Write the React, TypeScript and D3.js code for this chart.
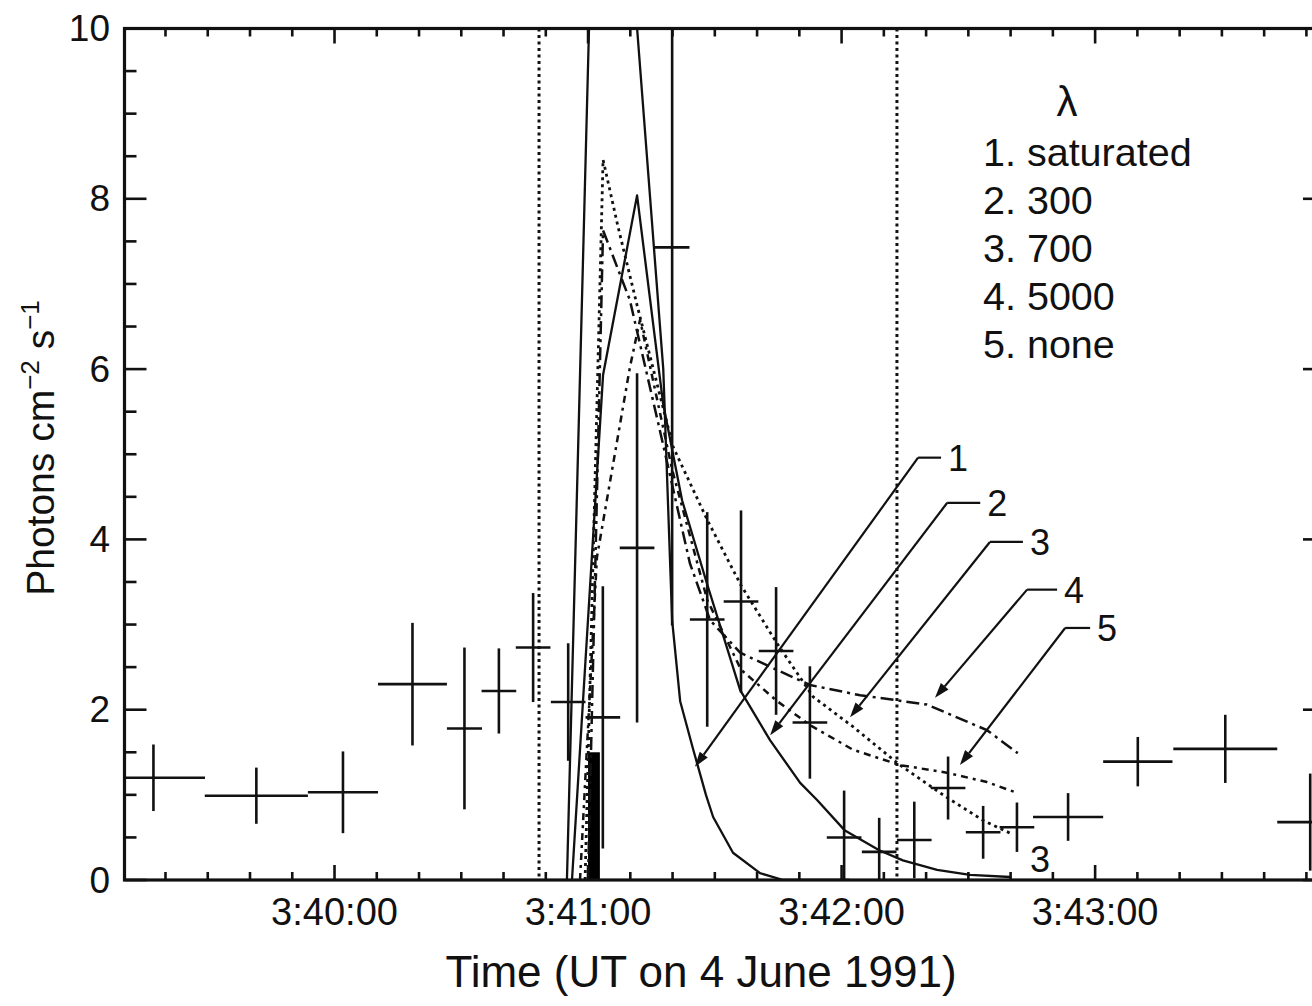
import React from "react";
import * as d3 from "d3";

const W = 1312;
const H = 1006;

// time axis: seconds after 3:40:00 UT on 4 June 1991
const xDomain = [-49.7, 234.4];
const yDomain = [0, 10];
const majorTickTimes = [0, 60, 120, 180];
const majorTickLabels = ["3:40:00", "3:41:00", "3:42:00", "3:43:00"];
const yTickValues = [0, 2, 4, 6, 8, 10];

// binned photon rates (crosses)
const binCenter = [-42.85, -18.5, 2.0, 18.45, 30.75, 38.9, 47.0, 55.3, 63.5, 71.6, 79.9, 88.2, 96.2, 104.5, 112.5, 120.6, 128.9, 137.2, 145.2, 153.5, 161.5, 173.6, 190.1, 210.8, 230.9];
const binHalf = [12.2, 12.2, 8.3, 8.15, 4.15, 4.1, 4.1, 4.1, 4.1, 4.1, 4.1, 4.1, 4.1, 4.1, 4.1, 4.1, 4.1, 4.1, 4.1, 4.1, 4.1, 8.3, 8.2, 12.3, 7.8];
const rate = [1.2, 0.99, 1.03, 2.3, 1.78, 2.22, 2.73, 2.09, 1.91, 3.9, 7.43, 3.06, 3.27, 2.69, 1.85, 0.5, 0.33, 0.47, 1.08, 0.56, 0.62, 0.74, 1.39, 1.54, 0.68];
const rateErr = [0.39, 0.33, 0.48, 0.72, 0.95, 0.5, 0.64, 0.69, 1.54, 2.05, 4.44, 1.26, 1.07, 0.75, 0.66, 0.55, 0.4, 0.45, 0.37, 0.31, 0.29, 0.28, 0.29, 0.4, 0.57];

// model curves
const curve1T = [55.0, 63.1, 77.8, 79.9, 81.8, 84.9, 87.9, 89.6, 94.3, 100.7, 106.2, 122.0];
const curve1V = [0, 15.5, 6.0, 3.05, 2.1, 1.53, 1.0, 0.74, 0.32, 0.08, 0.0, 0.0];

const curve2T = [56.2, 63.55, 71.6, 77.75, 82.25, 87.9, 96.0, 103.1, 110.2, 114.2, 120.8, 128.9, 134.5, 142.6, 150.4, 159.9];
const curve2V = [0, 5.93, 8.04, 5.6, 4.46, 3.52, 2.23, 1.64, 1.14, 0.94, 0.58, 0.35, 0.23, 0.12, 0.06, 0.035];

const curve3T = [59.3, 63.55, 67.1, 71.6, 80.1, 88.2, 96.2, 104.7, 113.3, 122.7, 133.8, 144.9, 153.5, 159.9];
const curve3V = [0, 8.46, 7.67, 6.75, 5.09, 4.23, 3.46, 2.78, 2.15, 1.8, 1.35, 0.97, 0.7, 0.55];

const curve4T = [60.0, 63.55, 69.9, 77.0, 84.1, 88.9, 96.0, 102.4, 112.5, 124.4, 133.1, 140.2, 154.4, 161.7];
const curve4V = [0, 7.63, 6.81, 5.28, 3.72, 3.05, 2.67, 2.52, 2.29, 2.17, 2.11, 2.06, 1.76, 1.49];

const curve5T = [58.1, 62.1, 69.9, 72.3, 79.9, 88.2, 96.2, 104.5, 112.5, 122.7, 133.8, 144.9, 154.4, 161.7];
const curve5V = [0, 3.79, 6.02, 6.58, 4.82, 3.29, 2.47, 2.11, 1.82, 1.53, 1.35, 1.26, 1.15, 1.02];

// vertical dotted markers and the short thick bar
const markerLinesT = [48.4, 133.1];
const barT = [60.0, 62.8];
const barV = 1.5;

// legend and arrow annotations
const legendTitle = "λ";
const legendItems = ["1. saturated", "2. 300", "3. 700", "4. 5000", "5. none"];
const arrowLabels = ["1", "2", "3", "4", "5"];
const arrowCornerT = [138.1, 145.0, 155.1, 163.9, 172.9];
const arrowCornerV = [4.96, 4.43, 3.97, 3.41, 2.96];
const arrowTipT = [85.3, 103.1, 122.0, 142.1, 148.0];
const arrowTipV = [1.33, 1.70, 1.91, 2.14, 1.35];
const leaderLen = [23, 33, 33, 30, 25];
const endLabel = "3";
const endLabelT = 164.6;
const endLabelV = 0.094;

const FONT = "'Liberation Sans', Arial, Helvetica, sans-serif";

export default function App() {
  const left = 124.5;
  const right = 1325;
  const top = 28.5;
  const bottom = 880;
  const x = d3.scaleLinear().domain(xDomain).range([left, right]);
  const y = d3.scaleLinear().domain(yDomain).range([bottom, top]);

  const line = d3
    .line<[number, number]>()
    .x((d) => x(d[0]))
    .y((d) => y(d[1]));

  const mk = (T: number[], V: number[]) => line(T.map((t, i) => [t, V[i]] as [number, number])) || "";

  const curves = [
    { d: mk(curve1T, curve1V), dash: "none", w: 2.3 },
    { d: mk(curve2T, curve2V), dash: "none", w: 2.3 },
    { d: mk(curve3T, curve3V), dash: "3 4", w: 2.8 },
    { d: mk(curve4T, curve4V), dash: "13 5 3 5", w: 2.5 },
    { d: mk(curve5T, curve5V), dash: "7 5 3 5", w: 2.5 },
  ];

  const yMinor = d3.range(0, 10.001, 0.5);
  const xMinor = d3.range(-40, 231, 10);

  const stroke = "#111";

  return (
    <svg
      width={W}
      height={H}
      style={{ position: "absolute", left: 0, top: 0, background: "#fff" }}
      fontFamily={FONT}
    >
      <defs>
        <clipPath id="plotClip">
          <rect x={left} y={top} width={right - left} height={bottom - top} />
        </clipPath>
      </defs>
      <rect x={0} y={0} width={W} height={H} fill="#fff" />

      <g clipPath="url(#plotClip)">
        {/* vertical dotted markers */}
        {markerLinesT.map((t, i) => (
          <line key={"m" + i} x1={x(t)} x2={x(t)} y1={top} y2={bottom} stroke={stroke} strokeWidth={3} strokeDasharray="3 3.5" />
        ))}
        {/* thick bar */}
        <rect x={x(barT[0])} y={y(barV)} width={x(barT[1]) - x(barT[0])} height={y(0) - y(barV)} fill="#000" />
        {/* curves */}
        {curves.map((c, i) => (
          <path key={"c" + i} d={c.d} fill="none" stroke={stroke} strokeWidth={c.w} strokeDasharray={c.dash} strokeLinejoin="round" />
        ))}
        {/* data crosses */}
        {binCenter.map((c, i) => (
          <g key={"p" + i} stroke={stroke} strokeWidth={2.6}>
            <line x1={x(c - binHalf[i])} x2={x(c + binHalf[i])} y1={y(rate[i])} y2={y(rate[i])} />
            <line x1={x(c)} x2={x(c)} y1={y(Math.max(0, rate[i] - rateErr[i]))} y2={y(rate[i] + rateErr[i])} />
          </g>
        ))}
      </g>

      {/* arrows */}
      {arrowLabels.map((lab, i) => {
        const cx = x(arrowCornerT[i]);
        const cy = y(arrowCornerV[i]);
        const tx = x(arrowTipT[i]);
        const ty = y(arrowTipV[i]);
        const ang = Math.atan2(ty - cy, tx - cx);
        const L = 15;
        const Wd = 5;
        const bx = tx - L * Math.cos(ang);
        const by = ty - L * Math.sin(ang);
        const px = -Math.sin(ang) * Wd;
        const py = Math.cos(ang) * Wd;
        return (
          <g key={"a" + i}>
            <line x1={cx} y1={cy} x2={bx} y2={by} stroke={stroke} strokeWidth={2.2} />
            <line x1={cx} y1={cy} x2={cx + leaderLen[i]} y2={cy} stroke={stroke} strokeWidth={2.2} />
            <polygon points={`${tx},${ty} ${bx + px},${by + py} ${bx - px},${by - py}`} fill={stroke} />
            <text x={cx + leaderLen[i] + 7} y={cy + 13} fontSize={36} fill={stroke}>
              {lab}
            </text>
          </g>
        );
      })}
      <text x={x(endLabelT)} y={y(endLabelV)} fontSize={36} fill={stroke}>
        {endLabel}
      </text>

      {/* legend */}
      <text x={1067} y={116} fontSize={42} textAnchor="middle" fill={stroke}>
        {legendTitle}
      </text>
      {legendItems.map((s, i) => (
        <text key={"l" + i} x={983} y={166 + i * 48} fontSize={39.5} fill={stroke}>
          {s}
        </text>
      ))}

      {/* axes frame */}
      <rect x={left} y={top} width={right - left} height={bottom - top} fill="none" stroke={stroke} strokeWidth={3.2} />

      {/* y ticks */}
      {yMinor.map((v, i) => {
        const major = Math.abs(v - Math.round(v / 2) * 2) < 1e-6;
        const len = major ? 22 : 12;
        return (
          <g key={"yt" + i} stroke={stroke} strokeWidth={2.6}>
            <line x1={left} x2={left + len} y1={y(v)} y2={y(v)} />
            <line x1={right} x2={right - len} y1={y(v)} y2={y(v)} />
          </g>
        );
      })}
      {yTickValues.map((v) => (
        <text key={"yl" + v} x={110} y={y(v) + 12.5} fontSize={37} textAnchor="end" fill={stroke}>
          {v}
        </text>
      ))}

      {/* x ticks */}
      {xMinor.map((t, i) => {
        const major = majorTickTimes.includes(t);
        const len = major ? 15 : 8;
        return (
          <g key={"xt" + i} stroke={stroke} strokeWidth={2.6}>
            <line x1={x(t)} x2={x(t)} y1={bottom} y2={bottom - len} />
            <line x1={x(t)} x2={x(t)} y1={top} y2={top + len} />
          </g>
        );
      })}
      {majorTickLabels.map((lab, i) => (
        <text key={"xl" + i} x={x(majorTickTimes[i])} y={925} fontSize={38} textAnchor="middle" fill={stroke}>
          {lab}
        </text>
      ))}

      {/* axis titles */}
      <text x={701} y={987} fontSize={44} textAnchor="middle" fill={stroke}>
        Time (UT on 4 June 1991)
      </text>
      <text transform="translate(54,448) rotate(-90)" fontSize={39} textAnchor="middle" fill={stroke}>
        Photons cm
        <tspan fontSize={26} dy={-15}>−2</tspan>
        <tspan dy={15}> s</tspan>
        <tspan fontSize={26} dy={-15}>−1</tspan>
      </text>
    </svg>
  );
}
